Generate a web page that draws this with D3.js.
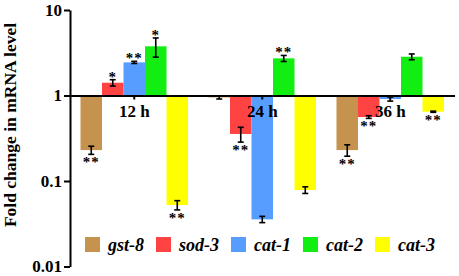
<!DOCTYPE html>
<html>
<head>
<meta charset="utf-8">
<script src="https://cdn.jsdelivr.net/npm/d3@7"></script>
<style>
  body { margin: 0; background: #fff; }
  text { font-family: "Liberation Serif", "Times New Roman", serif; font-weight: bold; }
</style>
</head>
<body>
<div id="chart"></div>
<script>
const timePoints = ["12 h", "24 h", "36 h"];
const genes = ["gst-8", "sod-3", "cat-1", "cat-2", "cat-3"];
const colors = ["#C6934F", "#FF4242", "#569DFF", "#12EE12", "#FFFF00"];

// fold change per gene at 12 h, 24 h, 36 h
const gst8 = [0.23, 0.95, 0.23];
const sod3 = [1.41, 0.355, 0.56];
const cat1 = [2.44, 0.0356, 0.91];
const cat2 = [3.76, 2.72, 2.84];
const cat3 = [0.0524, 0.0785, 0.646];

// error (SE)
const gst8Err = [0.025, 0.04, 0.035];
const sod3Err = [0.12, 0.07, 0.02];
const cat1Err = [0.07, 0.003, 0.05];
const cat2Err = [0.95, 0.22, 0.22];
const cat3Err = [0.0065, 0.007, 0.01];

// significance marks
const gst8Sig = ["**", "", "**"];
const sod3Sig = ["*", "**", "**"];
const cat1Sig = ["**", "", ""];
const cat2Sig = ["*", "**", ""];
const cat3Sig = ["**", "", "**"];

const yTicks = [0.01, 0.1, 1, 10];
const yTickLabels = ["0.01", "0.1", "1", "10"];

const values = [gst8, sod3, cat1, cat2, cat3];
const errors = [gst8Err, sod3Err, cat1Err, cat2Err, cat3Err];
const sigs = [gst8Sig, sod3Sig, cat1Sig, cat2Sig, cat3Sig];

const data = [];
timePoints.forEach((t, ti) => {
  genes.forEach((g, gi) => {
    data.push({ time: t, gene: g, color: colors[gi], v: values[gi][ti], e: errors[gi][ti], sig: sigs[gi][ti] });
  });
});

const width = 459, height = 276;
const svg = d3.select("#chart").append("svg")
  .attr("width", width)
  .attr("height", height);

const x0 = d3.scaleBand().domain(timePoints).range([70, 454.5]).paddingInner(0.16).paddingOuter(0.082);
const x1 = d3.scaleBand().domain(genes).range([0, x0.bandwidth()]);
const y = d3.scaleLog().domain([0.01, 10]).range([266.5, 10]);

// bars
svg.append("g")
  .selectAll("rect")
  .data(data)
  .join("rect")
  .attr("x", d => x0(d.time) + x1(d.gene))
  .attr("width", x1.bandwidth())
  .attr("y", d => Math.min(y(d.v), y(1)))
  .attr("height", d => Math.abs(y(d.v) - y(1)))
  .attr("fill", d => d.color);

// error bars
const eb = svg.append("g").attr("stroke", "#000").attr("stroke-width", 1.6);
data.forEach(d => {
  const cx = x0(d.time) + x1(d.gene) + x1.bandwidth() / 2;
  const y1 = y(d.v + d.e), y2 = y(d.v - d.e);
  eb.append("line").attr("x1", cx).attr("x2", cx).attr("y1", y1).attr("y2", y2);
  eb.append("line").attr("x1", cx - 3).attr("x2", cx + 3).attr("y1", y1).attr("y2", y1);
  eb.append("line").attr("x1", cx - 3).attr("x2", cx + 3).attr("y1", y2).attr("y2", y2);
});

// stars
svg.append("g")
  .selectAll("text")
  .data(data.filter(d => d.sig))
  .join("text")
  .attr("x", d => x0(d.time) + x1(d.gene) + x1.bandwidth() / 2)
  .attr("y", d => d.v > 1 ? y(d.v + d.e) - 5 + 7 : y(d.v - d.e) + 6 + 7)
  .attr("text-anchor", "middle")
  .attr("font-size", 15)
  .attr("font-weight", "normal")
  .attr("letter-spacing", 1)
  .text(d => d.sig);

// Y axis
const yAxis = svg.append("g")
  .attr("transform", "translate(70,0)")
  .call(d3.axisLeft(y).tickValues(yTicks).tickFormat((d, i) => yTickLabels[i]).tickSize(6).tickSizeOuter(0).tickPadding(2));
yAxis.selectAll("path, line").attr("stroke", "#000").attr("stroke-width", 2);
yAxis.selectAll("text").attr("font-size", 17).attr("font-family", null).attr("fill", "#000");

// baseline at 1 with group labels
const xAxis = svg.append("g")
  .attr("transform", "translate(0," + y(1) + ")")
  .call(d3.axisBottom(x0).tickSize(4).tickSizeOuter(0));
xAxis.selectAll("path, line").attr("stroke", "#000").attr("stroke-width", 2);
xAxis.selectAll("text").attr("font-size", 17).attr("font-family", null).attr("fill", "#000").attr("y", 9);

// Y label
svg.append("text")
  .attr("transform", "translate(16,125) rotate(-90)")
  .attr("text-anchor", "middle")
  .attr("font-size", 17.5)
  .text("Fold change in mRNA level");

// legend
const legend = svg.append("g");
let lx = 85;
genes.forEach((g, i) => {
  legend.append("rect").attr("x", lx).attr("y", 237).attr("width", 15).attr("height", 15).attr("fill", colors[i]);
  const t = legend.append("text")
    .attr("x", lx + 23)
    .attr("y", 251)
    .attr("font-size", 18)
    .attr("font-style", "italic")
    .text(g);
  lx = lx + 23 + t.node().getComputedTextLength() + 12;
});
</script>
</body>
</html>
